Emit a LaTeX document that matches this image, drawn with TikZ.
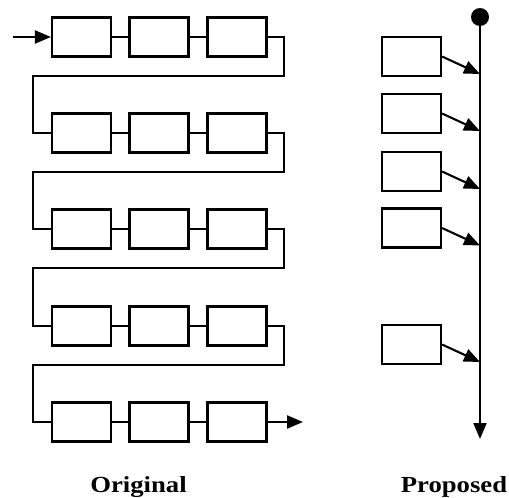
\documentclass[tikz,border=0pt]{standalone}
\usepackage{fontspec}
\setmainfont{Liberation Serif}
\usetikzlibrary{arrows.meta}
\begin{document}
\begin{tikzpicture}[x=1pt,y=-1pt,
  blk/.style={draw,line width=2.1pt,minimum width=59pt,minimum height=39pt,inner sep=0pt},
  wire/.style={line width=2.1pt},
  arr/.style={line width=2.1pt,-{Triangle[length=16pt,width=13pt]}},
  lbl/.style={font=\fontsize{23}{26}\selectfont\bfseries,xscale=1.16,anchor=base,inner sep=0pt}]
\useasboundingbox (0,0) rectangle (509,498);
% left chain
\foreach \r/\y in {1/37,2/133,3/229,4/326,5/422}{
  \node[blk] (b\r1) at (81.5,\y) {};
  \node[blk] (b\r2) at (159,\y) {};
  \node[blk] (b\r3) at (237,\y) {};
  \draw[wire] (b\r1) -- (b\r2);
  \draw[wire] (b\r2) -- (b\r3);
}
\coordinate (in) at (13,37);
\coordinate (out) at (303,422);
\draw[arr] (in) -- (b11.west);
\foreach \a/\b/\t in {1/2/76,2/3/172,3/4/268,4/5/365}{
  \draw[wire] (b\a3.east) -| (284,\t) -| (33,\t) |- (b\b1.west);
}
\draw[arr] (b53.east) -- (out);
% right
\coordinate (top) at (480,17);
\coordinate (bot) at (480,439);
\fill (top) circle (9pt);
\draw[arr] (top) -- (bot);
\foreach \i/\y in {1/56.5,2/113.5,3/171.5,4/228,5/344.5}{
  \node[blk] (p\i) at (411.5,\y) {};
  \coordinate (t\i) at (480,\y+17.5);
  \draw[arr] (p\i.east) -- (t\i);
}
\node[lbl] (orig) at (138.5,492) {Original};
\node[lbl] (prop) at (454,492) {Proposed};
\end{tikzpicture}
\end{document}
